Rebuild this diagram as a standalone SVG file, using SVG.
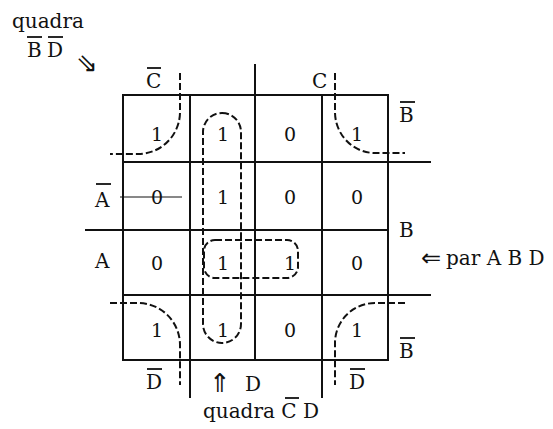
<svg xmlns="http://www.w3.org/2000/svg" width="553" height="429" viewBox="0 0 553 429">
<style>
  .t { font-family: "DejaVu Serif", "Liberation Serif", serif; font-size: 20px; fill: #111; }
  .d { font-family: "DejaVu Serif", "Liberation Serif", serif; font-size: 19px; fill: #111; text-anchor: middle; }
  .ar { font-family: "DejaVu Sans", sans-serif; fill: #111; }
  .g { stroke: #111; stroke-width: 2; fill: none; stroke-linecap: square; }
  .dash { stroke: #111; stroke-width: 2; fill: none; stroke-dasharray: 7 3; }
  .ov { stroke: #111; stroke-width: 1.8; }
</style>
<rect width="553" height="429" fill="#fff"/>

<g id="grid">
  <rect class="g" x="123" y="95" width="265" height="265"/>
  <line class="g" x1="190" y1="95" x2="190" y2="397"/>
  <line class="g" x1="255" y1="65" x2="255" y2="360"/>
  <line class="g" x1="322" y1="95" x2="322" y2="397"/>
  <line class="g" x1="123" y1="162" x2="430" y2="162"/>
  <line class="g" x1="86" y1="230" x2="388" y2="230"/>
  <line class="g" x1="123" y1="295" x2="430" y2="295"/>
</g>

<g id="cells">
  <text class="d" x="157" y="141">1</text>
  <text class="d" x="223" y="141">1</text>
  <text class="d" x="290" y="141">0</text>
  <text class="d" x="357" y="141">1</text>
  <text class="d" x="157" y="204">0</text>
  <text class="d" x="223" y="204">1</text>
  <text class="d" x="290" y="204">0</text>
  <text class="d" x="357" y="204">0</text>
  <text class="d" x="157" y="270">0</text>
  <text class="d" x="223" y="270">1</text>
  <text class="d" x="290" y="270">1</text>
  <text class="d" x="357" y="270">0</text>
  <text class="d" x="157" y="337">1</text>
  <text class="d" x="223" y="337">1</text>
  <text class="d" x="290" y="337">0</text>
  <text class="d" x="357" y="337">1</text>
</g>

<g id="connectors">
  <path class="dash" d="M180,73 V112 A42,42 0 0 1 138,154 H110"/>
  <path class="dash" d="M335,73 V112 A40,41 0 0 0 375,153 H405"/>
  <path class="dash" d="M110,303 H138 A42,42 0 0 1 180,345 V385"/>
  <path class="dash" d="M405,303 H375 A40,40 0 0 0 335,343 V385"/>
  <rect class="dash" x="203" y="113" width="38" height="230" rx="19" ry="19"/>
  <rect class="dash" x="204" y="240" width="94" height="38" rx="11" ry="11"/>
  <line stroke="#111" stroke-width="1" x1="120" y1="197" x2="182" y2="197"/>
</g>

<g id="labels">
  <text class="t" x="12" y="28">quadra</text>
  <text class="t" x="27" y="57">B</text>
  <line class="ov" x1="27" y1="37" x2="42" y2="37"/>
  <text class="t" x="47" y="57">D</text>
  <line class="ov" x1="48" y1="37" x2="63" y2="37"/>
  <text class="ar" x="76" y="72" font-size="26">⇘</text>

  <text class="t" x="146" y="88">C</text>
  <line class="ov" x1="147" y1="68" x2="161" y2="68"/>
  <text class="t" x="312" y="88">C</text>

  <text class="t" x="95" y="207">A</text>
  <line class="ov" x1="96" y1="184" x2="111" y2="184"/>
  <text class="t" x="95" y="268">A</text>

  <text class="t" x="399" y="122">B</text>
  <line class="ov" x1="400" y1="102" x2="415" y2="102"/>
  <text class="t" x="399" y="237">B</text>
  <text class="t" x="399" y="358">B</text>
  <line class="ov" x1="400" y1="338" x2="415" y2="338"/>

  <text class="ar" x="421" y="266" font-size="24">⇐</text>
  <text class="t" x="446" y="265">par A B D</text>

  <text class="t" x="146" y="389">D</text>
  <line class="ov" x1="147" y1="369" x2="162" y2="369"/>
  <text class="ar" x="209" y="392" font-size="26">⇑</text>
  <text class="t" x="245" y="391">D</text>
  <text class="t" x="349" y="389">D</text>
  <line class="ov" x1="350" y1="369" x2="365" y2="369"/>

  <text class="t" x="203" y="418">quadra <tspan>C</tspan> D</text>
  <line class="ov" x1="285" y1="398" x2="299" y2="398"/>
</g>
</svg>
